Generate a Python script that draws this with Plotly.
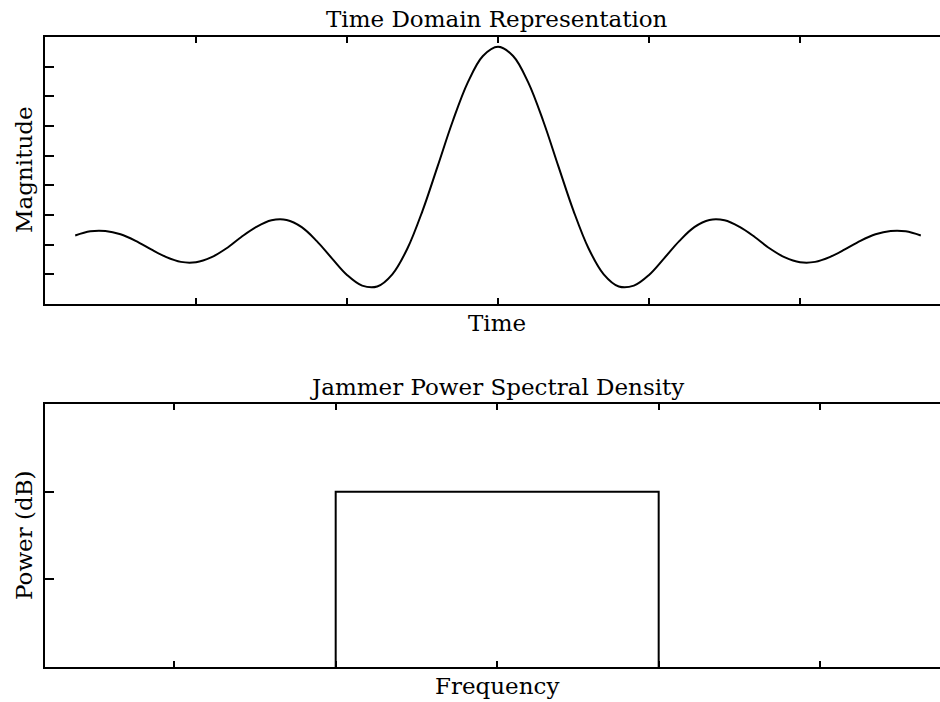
import plotly.graph_objects as go

# ---- Data ----
# Top panel: time-domain waveform (axis units, ticks every 1)
time_x = [0.2, 0.3, 0.4, 0.5, 0.6, 0.7, 0.8, 0.9, 1.0, 1.1, 1.2, 1.3, 1.4, 1.5,
          1.6, 1.7, 1.8, 1.9, 2.0, 2.1, 2.2, 2.3, 2.4, 2.5, 2.6, 2.7, 2.8, 2.9,
          3.0, 3.1, 3.2, 3.3, 3.4, 3.5, 3.6, 3.7, 3.8, 3.9, 4.0, 4.1, 4.2, 4.3,
          4.4, 4.5, 4.6, 4.7, 4.8, 4.9, 5.0, 5.1, 5.2, 5.3, 5.4, 5.5, 5.6, 5.7, 5.8]
magnitude = [2.31, 2.45, 2.46, 2.35, 2.13, 1.85, 1.59, 1.42, 1.41, 1.57, 1.87, 2.26,
             2.60, 2.82, 2.83, 2.59, 2.12, 1.54, 0.98, 0.62, 0.59, 1.00, 1.87, 3.14,
             4.64, 6.16, 7.47, 8.36, 8.67, 8.36, 7.47, 6.16, 4.64, 3.14, 1.87, 1.00,
             0.59, 0.62, 0.98, 1.54, 2.12, 2.59, 2.83, 2.82, 2.60, 2.26, 1.87, 1.57,
             1.41, 1.42, 1.59, 1.85, 2.13, 2.35, 2.46, 2.45, 2.31]
time_ticks = [1, 2, 3, 4, 5]
mag_ticks = [1, 2, 3, 4, 5, 6, 7, 8]

# Bottom panel: jammer PSD (rectangular band)
freq = [-1.0, -1.0, 1.0, 1.0]
power = [0.0, 2.0, 2.0, 0.0]
freq_ticks = [-2, -1, 0, 1, 2]
power_ticks = [1, 2]

FONT = "DejaVu Serif"
W, H = 940, 702
ML, MR, MT, MB = 45, 0, 37, 35

fig = go.Figure()
fig.add_trace(go.Scatter(x=time_x, y=magnitude, mode="lines",
                         line=dict(color="black", width=2, shape="spline", smoothing=1.0),
                         xaxis="x", yaxis="y", showlegend=False, hoverinfo="skip"))
fig.add_trace(go.Scatter(x=freq, y=power, mode="lines",
                         line=dict(color="black", width=2),
                         xaxis="x2", yaxis="y2", showlegend=False, hoverinfo="skip"))

ph = H - MT - MB
def py(px):  # pixel y -> paper y
    return (H - MB - px) / ph
pw = W - ML - MR
def pxx(px):
    return (px - ML) / pw

axis_common = dict(showgrid=False, zeroline=False, showline=True, linecolor="black",
                   linewidth=2, ticks="inside", tickcolor="black", tickwidth=2,
                   showticklabels=False)

fig.update_layout(
    width=W, height=H,
    margin=dict(l=ML, r=MR, t=MT, b=MB),
    paper_bgcolor="white", plot_bgcolor="white",
    xaxis=dict(axis_common, domain=[0, 1], range=[0, 5.927], tickvals=time_ticks,
               mirror="ticks", ticklen=6, anchor="y"),
    yaxis=dict(axis_common, domain=[py(304), 1], range=[0, 9], tickvals=mag_ticks,
               ticklen=9, anchor="x"),
    xaxis2=dict(axis_common, domain=[0, 1], range=[-2.8, 2.742], tickvals=freq_ticks,
                mirror="ticks", ticklen=6, anchor="y2"),
    yaxis2=dict(axis_common, domain=[0, py(404)], range=[0, 3], tickvals=power_ticks,
                ticklen=9, anchor="x2"),
)

ann_font = dict(family=FONT, size=23, color="black")
annotations = [
    dict(text="Time Domain Representation", x=pxx(497), y=py(19)),
    dict(text="Time", x=pxx(497), y=py(323)),
    dict(text="Jammer Power Spectral Density", x=pxx(497), y=py(387)),
    dict(text="Frequency", x=pxx(497), y=py(686)),
    dict(text="Magnitude", x=pxx(24), y=py(170), textangle=-90),
    dict(text="Power (dB)", x=pxx(24), y=py(535), textangle=-90),
]
for a in annotations:
    fig.add_annotation(xref="paper", yref="paper", showarrow=False,
                       xanchor="center", yanchor="middle", font=ann_font, **a)

fig.write_html("out.html")
